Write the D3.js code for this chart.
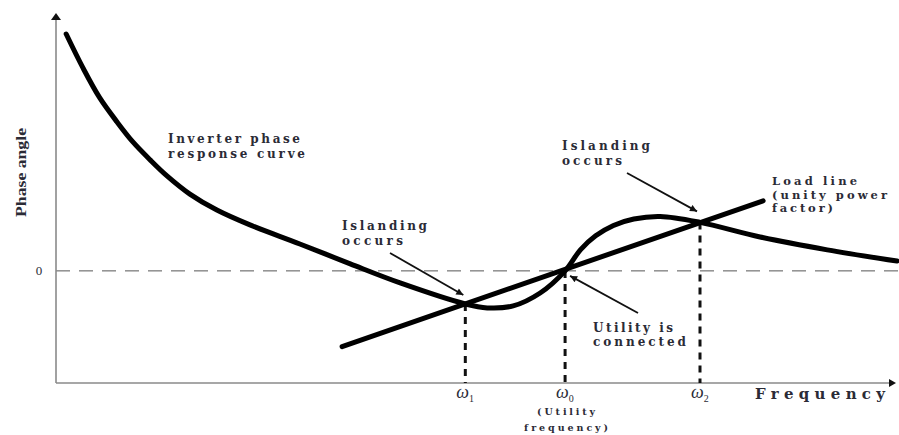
<!DOCTYPE html>
<html>
<head>
<meta charset="utf-8">
<script src="https://cdn.jsdelivr.net/npm/d3@7"></script>
<style>
  body { margin: 0; background: #fff; }
  text { font-family: "DejaVu Serif", "Liberation Serif", serif; font-weight: bold; fill: #2b2b36; }
</style>
</head>
<body>
<svg id="chart" width="899" height="435"></svg>
<script>
// inverter phase response curve, [frequency (w/w0), phase (deg)]
var inverterCurve = [
  [0.020, 84.5], [0.053, 72.4], [0.086, 61.7], [0.120, 53.1], [0.151, 46.0],
  [0.185, 39.6], [0.218, 33.9], [0.263, 27.4], [0.316, 21.7], [0.381, 16.4],
  [0.479, 9.6], [0.578, 2.5], [0.676, -4.3], [0.804, -11.8], [0.847, -13.2],
  [0.898, -12.5], [0.951, -7.9], [1.000, 0.0], [1.030, 7.5], [1.060, 12.5],
  [1.095, 16.2], [1.135, 18.5], [1.187, 19.4], [1.265, 17.3], [1.383, 12.1],
  [1.515, 7.5], [1.652, 3.5]
];
// load line (unity power factor)
var loadLine = [[0.562, -27.0], [1.389, 25.0]];
// intersection frequencies and the phase there
var crossings = [
  {name: "1", f: 0.804, phase: -11.8},
  {name: "0", f: 1.000, phase: 0.0},
  {name: "2", f: 1.265, phase: 17.3}
];

var svg = d3.select("#chart");
var x = d3.scaleLinear().domain([0, 1.65]).range([56, 896]);
var y = d3.scaleLinear().domain([-40, 92]).range([383, 13]);

var defs = svg.append("defs");
defs.append("marker").attr("id", "arr")
    .attr("viewBox", "0 0 10 10").attr("refX", 10).attr("refY", 5)
    .attr("markerWidth", 9).attr("markerHeight", 7).attr("orient", "auto")
    .attr("markerUnits", "userSpaceOnUse")
  .append("path").attr("d", "M0,0L10,5L0,10z").attr("fill", "#111");

// zero phase line
svg.append("line")
    .attr("x1", x(0)).attr("x2", 899)
    .attr("y1", y(0)).attr("y2", y(0))
    .attr("stroke", "#555").attr("stroke-width", 1)
    .attr("stroke-dasharray", "14,9");

// axes
svg.append("line").attr("x1", x(0)).attr("x2", x(0)).attr("y1", y(-40)).attr("y2", y(92) + 6)
    .attr("stroke", "#8a8a8a").attr("stroke-width", 1.6);
svg.append("line").attr("x1", x(0)).attr("x2", x(1.65) - 6).attr("y1", y(-40)).attr("y2", y(-40))
    .attr("stroke", "#8a8a8a").attr("stroke-width", 1.6);
svg.append("path")
    .attr("d", "M" + x(0) + "," + y(92) + "l-5,7h10z").attr("fill", "#111");
svg.append("path")
    .attr("d", "M" + x(1.65) + "," + y(-40) + "l-7,-4v8z").attr("fill", "#111");

// vertical dashed drops
svg.selectAll(".drop").data(crossings).enter().append("line")
    .attr("class", "drop")
    .attr("x1", function (d) { return x(d.f); }).attr("x2", function (d) { return x(d.f); })
    .attr("y1", function (d) { return y(d.phase); }).attr("y2", y(-40))
    .attr("stroke", "#111").attr("stroke-width", 3)
    .attr("stroke-dasharray", "7,6");

var line = d3.line().x(function (d) { return x(d[0]); }).y(function (d) { return y(d[1]); });

svg.append("path").datum(loadLine)
    .attr("d", line)
    .attr("fill", "none").attr("stroke", "#000").attr("stroke-width", 5)
    .attr("stroke-linecap", "round");

svg.append("path").datum(inverterCurve)
    .attr("d", line.curve(d3.curveCatmullRom.alpha(0.5)))
    .attr("fill", "none").attr("stroke", "#000").attr("stroke-width", 5)
    .attr("stroke-linecap", "round").attr("stroke-linejoin", "round");

// annotation arrows, pointing at crossing points
function arrow(from, tipOffset, target) {
  svg.append("line")
      .attr("x1", from[0]).attr("y1", from[1])
      .attr("x2", x(target.f) + tipOffset[0]).attr("y2", y(target.phase) + tipOffset[1])
      .attr("stroke", "#111").attr("stroke-width", 1.8)
      .attr("marker-end", "url(#arr)");
}
arrow([390, 253], [-2, -9], crossings[0]);
arrow([627, 173], [-3, -11], crossings[2]);
arrow([638, 313], [5, 5], crossings[1]);

// text blocks
function label(lines, x0, y0, size, lh, widths) {
  lines.forEach(function (t, i) {
    svg.append("text")
        .attr("x", x0).attr("y", y0 + i * lh)
        .attr("font-size", size)
        .attr("textLength", widths[i]).attr("lengthAdjust", "spacing")
        .text(t);
  });
}
label(["Inverter phase", "response curve"], 168, 143, 12, 15, [132, 137]);
label(["Islanding", "occurs"], 342, 230, 12, 15, [85, 61]);
label(["Islanding", "occurs"], 562, 150, 12, 15, [88, 60]);
label(["Load line", "(unity power", "factor)"], 772, 185, 11.5, 13.5, [85, 115, 61]);
label(["Utility is", "connected"], 593, 332, 12, 14, [80, 93]);

svg.append("text").attr("x", 755).attr("y", 399).attr("font-size", 15)
    .attr("textLength", 130).attr("lengthAdjust", "spacing").text("Frequency");
svg.append("text").attr("x", x(0) - 17).attr("y", y(0) + 4).attr("font-size", 13)
    .style("font-family", "Liberation Serif").style("font-weight", "normal")
    .attr("text-anchor", "middle").text("0");
svg.append("text").attr("transform", "translate(26,217) rotate(-90)")
    .style("font-family", "Liberation Serif")
    .attr("font-size", 14.5).attr("textLength", 89).attr("lengthAdjust", "spacingAndGlyphs")
    .text("Phase angle");

// omega tick labels
var om = svg.selectAll(".om").data(crossings).enter().append("text")
    .attr("class", "om")
    .attr("x", function (d) { return x(d.f) - 9; }).attr("y", 398)
    .style("font-family", "Liberation Serif").style("font-weight", "normal")
    .style("font-style", "italic").attr("font-size", 18);
om.append("tspan").text("ω");
om.append("tspan").attr("font-size", 10).style("font-style", "normal").attr("dy", 4)
    .text(function (d) { return d.name; });

svg.append("text").attr("x", x(1) + 1).attr("y", 415).attr("text-anchor", "middle")
    .attr("font-size", 9.5).attr("textLength", 58).attr("lengthAdjust", "spacing").text("(Utility");
svg.append("text").attr("x", x(1) + 1).attr("y", 431).attr("text-anchor", "middle")
    .attr("font-size", 9.5).attr("textLength", 84).attr("lengthAdjust", "spacing").text("frequency)");
</script>
</body>
</html>
